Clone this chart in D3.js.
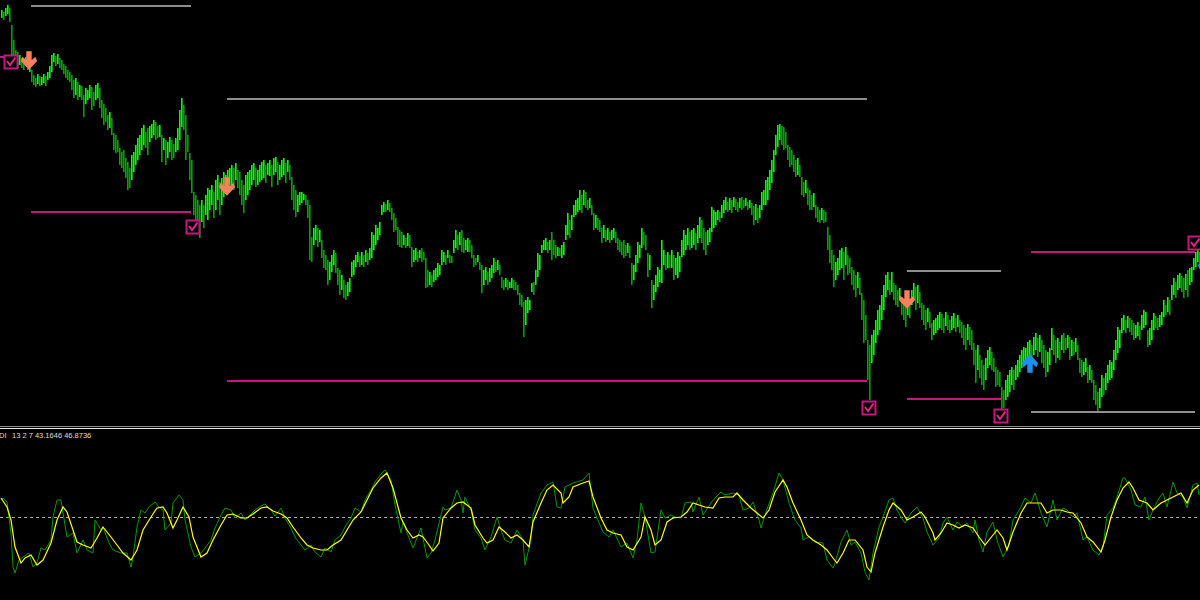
<!DOCTYPE html>
<html>
<head>
<meta charset="utf-8">
<script src="https://cdn.jsdelivr.net/npm/d3@7"></script>
<style>
  html, body { margin: 0; padding: 0; background: #000; }
  svg { display: block; }
</style>
</head>
<body>
<div id="chart"></div>
<script>
// Price bars in points, one value per bar (bar index = time)
const highs = [
  990,988,992,995,992, 975,960,950,948,945, 942,940,943,938,940, 930,925,922,926,924,
  923,926,924,928,934, 945,947,944,946,942, 940,936,934,930,928, 925,920,922,918,915,
  914,905,912,910,915, 913,908,915,917,912, 900,896,892,885,888, 882,867,865,860,852,
  848,850,842,838,832, 845,848,855,862,865, 872,875,868,872,874, 876,880,878,874,875,
  865,862,860,858,863, 860,856,862,872,890, 902,895,885,865,847, 840,808,805,800,795,
  800,795,805,812,810, 815,808,820,825,818, 822,828,825,830,832, 835,832,837,830,828,
  820,815,825,828,830, 835,837,832,830,835, 838,840,835,837,840, 835,842,843,838,835,
  840,842,837,840,835, 823,815,810,805,808, 808,806,805,800,795, 763,772,775,772,770,
  760,750,745,740,738, 745,750,747,732,730, 725,720,715,718,722, 738,740,745,748,744,
  748,745,750,747,752, 768,765,775,772,778, 795,798,796,800,797, 792,787,782,773,770,
  768,765,762,767,765, 753,750,752,748,750, 752,748,742,730,728, 725,730,732,737,735,
  750,748,745,750,745, 744,760,770,765,768, 770,762,760,762,760, 755,745,742,745,738,
  735,730,733,728,732, 735,742,738,740,735, 723,720,722,720,718, 722,720,718,715,707,
  705,698,700,703,700, 717,718,730,747,745, 755,760,762,758,760, 768,760,755,753,752,
  755,758,775,787,780, 785,795,800,802,810, 805,810,808,800,802, 795,787,785,782,780,
  772,775,770,772,768, 770,772,768,762,760, 758,760,755,757,754, 737,735,745,758,755,
  772,768,765,747,745, 720,715,725,733,730, 760,750,745,748,745, 750,745,742,748,744,
  760,770,765,772,768, 770,772,767,775,783, 780,772,768,770,772, 793,790,788,790,788,
  795,800,803,798,802, 800,803,801,798,802, 803,800,802,798,800, 797,794,796,792,795,
  808,810,820,823,830, 840,850,865,875,876, 874,873,868,855,853, 850,845,840,842,835,
  823,818,820,812,810, 805,807,795,793,790, 792,790,788,773,765, 750,745,738,742,750,
  752,748,753,745,742, 733,730,725,728,722, 707,700,685,660,655, 665,670,680,690,695,
  705,715,725,728,720, 728,717,715,710,712, 703,700,695,702,698, 710,717,713,715,708,
  697,695,690,692,688, 677,680,682,685,688, 686,682,688,685,680, 684,687,682,685,680,
  678,675,672,676,673, 670,657,650,655,645, 640,635,642,650,653, 648,642,633,630,628,
  613,610,620,625,630, 633,630,635,640,645, 650,653,652,658,660, 655,663,667,662,665,
  660,655,650,648,652, 672,665,660,662,658, 665,667,662,665,663, 660,658,662,655,642,
  640,638,642,633,635, 630,620,615,608,612, 625,622,627,635,640, 638,650,660,673,670,
  682,685,680,684,682, 680,677,675,678,674, 685,690,688,670,672, 680,687,684,682,685,
  688,700,695,703,700, 715,722,718,725,727, 724,722,726,730,732, 733,742,748,750,748
];
const lows = [
  982,980,984,986,978, 940,938,934,932,935, 932,930,934,930,928, 918,915,913,916,914,
  915,917,914,920,922, 928,938,934,936,932, 930,926,922,920,918, 910,902,905,900,903,
  900,883,896,900,902, 890,894,900,902,892, 882,875,878,870,872, 865,850,847,848,835,
  832,828,822,810,812, 820,828,835,840,845, 850,855,852,845,858, 862,865,860,862,863,
  838,850,835,842,848, 840,842,848,850,860, 873,870,840,848,820, 807,785,772,770,762,
  778,772,785,780,790, 795,782,790,800,785, 795,803,808,810,815, 815,810,820,812,805,
  795,787,800,805,810, 815,820,813,815,818, 820,822,817,825,824, 813,825,828,815,820,
  823,825,817,828,820, 800,790,783,788,795, 797,800,795,782,740, 738,755,760,753,758,
  742,732,730,715,720, 728,735,727,715,705, 710,702,700,704,708, 723,725,733,738,733,
  735,733,738,735,740, 742,750,755,760,765, 785,788,788,790,788, 780,768,770,755,753,
  752,755,752,754,752, 733,738,740,738,742, 738,740,712,713,715, 713,718,720,723,725,
  735,738,735,742,737, 737,747,752,750,755, 748,747,750,748,748, 742,733,735,738,730,
  707,715,720,715,718, 722,727,728,730,725, 712,710,713,710,712, 712,710,710,705,695,
  693,663,675,687,690, 708,705,715,723,730, 747,750,750,747,750, 740,745,742,744,744,
  742,745,760,765,762, 770,783,785,788,790, 787,795,792,790,792, 785,770,772,770,768,
  757,762,758,760,757, 760,762,757,750,748, 745,742,744,747,742, 715,720,728,737,742,
  752,755,750,723,730, 692,700,708,713,718, 717,735,730,732,732, 732,720,725,722,728,
  743,745,750,755,750, 752,755,750,757,762, 757,750,745,755,758, 768,772,775,780,778,
  782,787,790,788,790, 787,793,790,788,792, 790,792,794,790,792, 785,775,780,777,782,
  790,795,795,800,810, 817,828,845,853,860, 855,850,852,840,833, 835,828,823,825,823,
  805,803,807,795,790, 790,793,782,778,777, 780,777,778,750,737, 730,713,720,725,730,
  732,720,735,725,727, 715,710,703,712,705, 680,657,660,620,600, 637,645,657,665,670,
  680,690,703,710,705, 708,700,695,693,700, 685,680,673,685,682, 695,700,690,697,692,
  680,675,670,678,672, 660,665,667,670,672, 670,667,674,670,667, 670,672,668,673,667,
  662,655,650,660,655, 650,635,617,630,622, 615,610,620,632,635, 630,628,613,615,613,
  590,592,600,603,608, 615,610,620,623,628, 632,635,638,640,642, 635,645,650,643,648,
  637,632,623,628,635, 650,645,637,642,640, 650,647,650,652,640, 644,645,648,640,627,
  623,625,628,617,620, 617,600,595,588,592, 603,605,610,617,620, 622,630,640,647,652,
  667,670,667,672,668, 665,660,662,664,660, 670,672,675,653,655, 660,670,672,670,673,
  675,683,685,688,685, 700,705,702,710,712, 708,702,710,703,715, 718,730,733,738,735
];

// Horizontal levels: [fromBar, toBar, price, kind]
const levels = [
  [-1, 2, 943, 'target'],
  [15, 95, 994, 'stop'], [15, 95, 788, 'target'],
  [113, 433, 901, 'stop'], [113, 433, 619, 'target'],
  [453, 500, 729, 'stop'], [453, 500, 601, 'target'],
  [515, 597, 748, 'target'], [515, 597, 588, 'stop']
];
// Signal markers: [bar, price]
const checkMarks = [[5, 938], [96, 773], [434, 592], [500, 584], [597, 757]];
const sellArrows = [[14, 939], [113, 813], [453, 700]];
const buyArrows = [[514.5, 637], [602.5, 735]];

// Oscillator: [bar, value]
const diMain = [
  [0,58.5],[1,59.5],[3,57.5],[5,42],[6,25],[7,22],[9,28.5],[11,30],[14,32],[16,25],[18,27],[20,34.5],
  [22,33.5],[25,38.5],[26,50],[28,58.5],[30,58.5],[31,52],[33,40],[36,42],[38,32],[41,38.5],[43,33.5],
  [46,32],[47,48.5],[50,43.5],[51,45],[54,37],[56,33.5],[60,32],[63,32],[65,25],[66,30],[68,45],
  [70,53.5],[72,52],[74,55],[77,57.5],[79,55],[81,53.5],[82,43.5],[85,47],[86,57],[89,61],[91,58.5],
  [92,48.5],[95,35],[97,30],[100,32],[102,34.5],[105,38.5],[107,44.5],[110,51],[112,54.5],[115,53.5],
  [117,49.5],[120,52],[122,48.5],[125,51.5],[127,53.5],[130,55.5],[132,56.5],[135,53.5],[137,50.5],
  [140,54.5],[142,49.5],[145,44.5],[147,40],[150,36],[152,33.5],[155,36],[157,32.5],[160,30],
  [162,34.5],[165,32.5],[167,38.5],[170,41],[172,45],[175,49.5],[177,54.5],[180,52.5],[182,58.5],
  [185,63.5],[187,67.5],[190,71.5],[192,73.5],[195,68.5],[197,56],[200,42],[201,47.5],[205,37],
  [206,34.5],[210,44.5],[213,29.5],[215,32],[217,38.5],[221,55],[222,53.5],[225,54.5],[228,63.5],
  [230,58.5],[231,52],[232,60],[235,53.5],[237,43.5],[240,39.5],[242,33.5],[245,40],[248,50],
  [250,43.5],[252,38.5],[255,37],[258,43.5],[261,38.5],[262,26],[265,38.5],[266,51],[270,62],
  [273,66],[276,67.5],[278,55],[280,54.5],[282,65],[286,67],[291,68.5],[294,72],[296,54.5],
  [298,49.5],[301,42.5],[304,40],[306,43.5],[310,35],[313,37],[316,29.5],[318,38.5],[320,57],
  [322,50],[325,32],[327,32.5],[330,53.5],[332,49.5],[335,51],[337,50],[340,49.5],[342,57],
  [345,57.5],[346,52.5],[349,60],[351,51],[355,57],[357,59.5],[360,62.5],[362,61],[366,62],
  [369,61],[371,53.5],[374,54.5],[376,57.5],[379,48.5],[380,44.5],[382,51],[386,62],[389,72],
  [391,68.5],[394,57],[397,48.5],[400,44.5],[401,38.5],[404,40],[407,37.5],[411,37],[413,28.5],
  [416,24.5],[417,27],[420,37.5],[423,43.5],[425,36],[427,37.5],[430,32],[432,22.5],[434,18.5],
  [436,32],[439,45],[441,50],[444,58.5],[446,59.5],[448,53.5],[450,50],[452,47],[455,52],[458,55],
  [461,49.5],[463,42.5],[466,36],[469,39.5],[471,47],[473,50],[476,43.5],[478,47.5],[481,45],
  [483,47],[486,42],[487,48.5],[489,38.5],[491,32.5],[493,42.5],[496,47.5],[498,38.5],[501,30],
  [504,36],[506,48.5],[510,55],[512,59.5],[515,57],[517,62],[520,52],[523,45],[526,58.5],[528,48.5],
  [531,54.5],[533,53.5],[536,50],[538,52],[541,38.5],[543,40],[546,33.5],[549,31],[551,35],[553,51],
  [556,54.5],[558,60],[561,69.5],[562,69.5],[565,63.5],[567,56],[570,55],[572,60],[574,48.5],
  [576,53.5],[579,59.5],[581,62],[583,55],[586,67.5],[588,62],[591,60],[593,54.5],[596,66],
  [598,67],[599,61]
];
const diSignal = [
  [0,59.5],[3,55],[5,48.5],[7,35],[10,27],[12,29.5],[15,31],[18,26],[21,28.5],[25,37],[28,48.5],
  [31,55],[33,52.5],[36,43.5],[38,37.5],[41,36],[45,34.5],[48,39.5],[51,45],[55,40],[58,36],[61,32],
  [65,28.5],[68,33.5],[71,43.5],[75,50],[78,54.5],[81,55],[83,52],[86,44.5],[88,48.5],[91,55],
  [94,50],[96,40],[100,30],[103,32],[106,38.5],[110,46],[113,51],[116,51.5],[120,49.5],[123,49.5],
  [126,51.5],[130,54.5],[133,55],[136,53],[140,51.5],[143,49.5],[146,45],[150,39.5],[153,36],
  [156,34.5],[160,33.5],[163,33.5],[166,36],[170,38.5],[173,43.5],[176,48.5],[180,52.5],[183,58.5],
  [186,64.5],[190,69.5],[193,72],[196,64.5],[200,49.5],[203,43.5],[206,39.5],[209,41],[211,40],
  [214,36],[216,33],[219,37],[221,49.5],[225,54.5],[228,57],[231,57.5],[235,54.5],[237,46],
  [241,39.5],[243,37],[246,38.5],[249,45],[252,42.5],[255,39.5],[258,41],[261,38.5],[264,35],
  [266,47.5],[270,57],[273,63.5],[276,66],[280,62],[281,57],[284,60],[286,65],[291,67],[294,68],
  [296,60],[300,49.5],[303,43.5],[306,42],[310,41],[313,35],[316,33.5],[320,40],[322,50],[325,43.5],
  [327,36],[330,38.5],[333,47.5],[336,49.5],[340,50],[343,52.5],[346,57],[349,56],[352,55],
  [356,54.5],[359,59.5],[362,60],[366,60],[368,62],[371,58.5],[375,54.5],[378,52],[381,49.5],
  [384,53.5],[387,62.5],[391,68.5],[393,65],[396,57],[400,48.5],[403,41],[406,38.5],[410,36],
  [413,33.5],[416,29.5],[418,27],[421,32],[424,38.5],[427,38.5],[431,33.5],[433,25],[435,22.5],
  [437,32],[441,45],[444,53.5],[446,57],[450,53.5],[453,48.5],[456,50],[460,52.5],[462,50],[466,42],
  [467,38.5],[470,42],[473,47],[476,46],[479,44.5],[482,46],[486,44.5],[489,40],[492,36],[496,41],
  [498,43.5],[501,39.5],[503,33.5],[506,42.5],[510,52],[513,57],[516,57],[520,57],[523,52],
  [526,53.5],[530,53.5],[533,52.5],[536,52],[540,47],[543,40],[546,37.5],[550,32.5],[552,38.5],
  [555,50],[558,58.5],[561,64.5],[564,67.5],[566,64.5],[569,58.5],[573,57],[576,53.5],[580,57],
  [583,58.5],[586,60],[590,62],[593,57],[596,63.5],[599,66]
];
const diName = 'DI';
const diValues = '13 2 7 43.1646 46.8736';
const diLevel = 50;

const W = 1200, H = 600;
const svg = d3.select('#chart').append('svg')
  .attr('width', W).attr('height', H)
  .style('background', '#000');

const x = d3.scaleLinear().domain([0, 599]).range([1, 1199]);
const y = d3.scaleLinear().domain([1000, 573]).range([0, 427]);
const yDi = d3.scaleLinear().domain([0, 100]).range([617, 417]);

const defs = svg.append('defs');
defs.append('clipPath').attr('id', 'clip-main')
  .append('rect').attr('x', 0).attr('y', 0).attr('width', W).attr('height', 426);
defs.append('clipPath').attr('id', 'clip-di')
  .append('rect').attr('x', 0).attr('y', 431).attr('width', W).attr('height', H - 431);

const main = svg.append('g').attr('clip-path', 'url(#clip-main)');

// --- price bars ---
// a bit wider than 1px so neighbouring bars blend like the screenshot
const bars = highs.map((h, i) => ({ i, h, l: lows[i] }));
main.append('g')
  .selectAll('rect')
  .data(bars)
  .join('rect')
  .attr('x', d => x(d.i))
  .attr('y', d => y(d.h))
  .attr('width', 1.6)
  .attr('height', d => y(d.l) - y(d.h))
  .attr('fill', (d, i) => (i === 0 || d.h + d.l >= bars[i - 1].h + bars[i - 1].l) ? '#00ff00' : '#00a400');

// --- levels ---
const levelColor = { stop: '#8e8e8e', target: '#c8167e' };
main.append('g').attr('shape-rendering', 'crispEdges')
  .selectAll('line')
  .data(levels)
  .join('line')
  .attr('x1', d => x(d[0]))
  .attr('x2', d => x(d[1]))
  .attr('y1', d => y(d[2]))
  .attr('y2', d => y(d[2]))
  .attr('stroke', d => levelColor[d[3]])
  .attr('stroke-width', 2);

// --- check boxes ---
const checks = main.append('g')
  .selectAll('g')
  .data(checkMarks)
  .join('g')
  .attr('transform', d => `translate(${Math.round(x(d[0]))},${Math.round(y(d[1]))})`);
checks.append('rect')
  .attr('x', -6.5).attr('y', -6.5).attr('width', 13).attr('height', 13)
  .attr('fill', '#000').attr('stroke', '#c8167e').attr('stroke-width', 2);
checks.append('path')
  .attr('d', 'M-4,-1 L-1,3 L4.5,-4.5')
  .attr('fill', 'none').attr('stroke', '#e0268e').attr('stroke-width', 2);

// --- arrows ---
const arrowPath = 'M-2.5,-9 L2.5,-9 L2.5,-1 L6,-4 L7.5,0 L0,8 L-7.5,0 L-6,-4 L-2.5,-1 Z';
main.append('g').selectAll('path')
  .data(sellArrows)
  .join('path')
  .attr('d', arrowPath)
  .attr('transform', d => `translate(${x(d[0])},${y(d[1])}) scale(1.08)`)
  .attr('fill', '#f8805c');
main.append('g').selectAll('path')
  .data(buyArrows)
  .join('path')
  .attr('d', arrowPath)
  .attr('transform', d => `translate(${x(d[0])},${y(d[1])}) scale(1.08,-1.08)`)
  .attr('fill', '#1e8ff0');

// --- panel separator ---
svg.append('line').attr('x1', 0).attr('x2', W).attr('y1', 426.5).attr('y2', 426.5)
  .attr('stroke', '#8a8a8a').attr('stroke-width', 1);
svg.append('line').attr('x1', 0).attr('x2', W).attr('y1', 428.5).attr('y2', 428.5)
  .attr('stroke', '#e6e6e6').attr('stroke-width', 1);

// --- oscillator ---
const di = svg.append('g').attr('clip-path', 'url(#clip-di)');
di.append('line')
  .attr('x1', 0).attr('x2', W)
  .attr('y1', yDi(diLevel) + 0.5).attr('y2', yDi(diLevel) + 0.5)
  .attr('stroke', '#a8a8a8').attr('stroke-dasharray', '3,3');

const diLine = d3.line().x(d => x(d[0])).y(d => yDi(d[1]));
di.append('path').attr('d', diLine(diMain))
  .attr('fill', 'none').attr('stroke', '#009a00').attr('stroke-width', 1);
di.append('path').attr('d', diLine(diSignal))
  .attr('fill', 'none').attr('stroke', '#ffff00').attr('stroke-width', 1.2);

const label = svg.append('text')
  .attr('y', 438)
  .attr('font-family', 'Liberation Sans, Arial, sans-serif')
  .attr('font-size', 7.5)
  .attr('fill', '#e4dccc');
label.append('tspan').attr('x', -1).text(diName);
label.append('tspan').attr('x', 12).text(diValues);
</script>
</body>
</html>
